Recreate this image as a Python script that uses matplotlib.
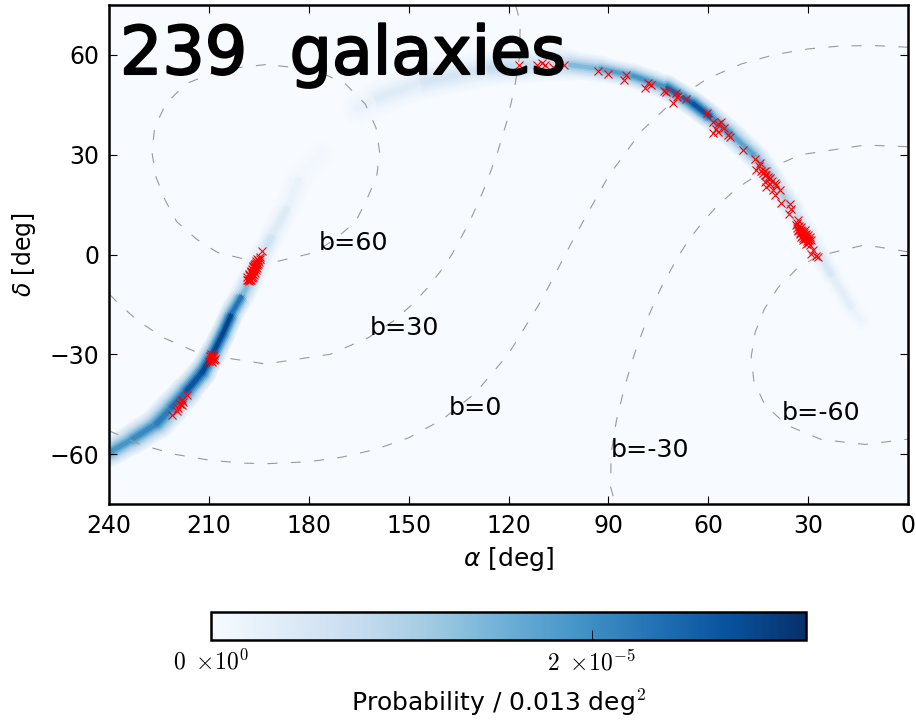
import numpy as np
import matplotlib
matplotlib.use('Agg')
import matplotlib.pyplot as plt
import matplotlib.patheffects as pe
from matplotlib.collections import LineCollection
from matplotlib.cm import ScalarMappable
from matplotlib.colors import Normalize

# probability band (two separate arcs)
SOUTH_RA = [239.7, 232.8, 225.6, 221.0, 216.6, 212.0, 208.8, 205.8, 203.0, 199.7, 196.7, 193.7, 190.7, 186.0, 182.6, 176.0]
SOUTH_DEC = [-59.4, -55.4, -50.8, -45.9, -40.9, -35.4, -29.8, -23.8, -17.4, -11.8, -5.8, 0.2, 6.3, 15.0, 23.7, 30.0]
SOUTH_WIDTH = [4.5, 4.5, 5.0, 5.0, 4.5, 4.2, 3.8, 3.8, 3.5, 3.8, 3.8, 3.8, 3.8, 4.0, 4.5, 5.0]
SOUTH_PROB = [1.8e-5, 2.0e-5, 2.1e-5, 2.3e-5, 2.5e-5, 2.9e-5, 2.8e-5, 2.9e-5, 2.9e-5, 1.7e-5, 1.1e-5, 0.7e-5, 0.5e-5, 0.3e-5, 0.15e-5, 0.06e-5]

NORTH_RA = [165.0, 159.5, 145.7, 125.6, 105.4, 101.5, 92.5, 82.6, 72.4, 64.5, 58.6, 52.6, 45.4, 40.5, 34.5, 28.5, 22.5, 16.5, 14.0]
NORTH_DEC = [44.0, 47.0, 52.0, 56.0, 57.3, 57.0, 55.8, 53.7, 50.2, 45.3, 40.8, 35.7, 29.1, 22.2, 13.2, 3.3, -6.9, -16.8, -19.8]
NORTH_WIDTH = [5.0, 5.0, 5.5, 5.5, 5.0, 4.5, 3.6, 3.6, 3.8, 3.8, 3.8, 3.8, 3.8, 3.8, 3.5, 3.2, 3.0, 3.0, 3.2]
NORTH_PROB = [0.15e-5, 0.3e-5, 0.45e-5, 0.6e-5, 0.9e-5, 1.2e-5, 1.6e-5, 1.9e-5, 1.9e-5, 3.1e-5, 2.3e-5, 1.7e-5, 1.7e-5, 1.2e-5, 0.9e-5, 0.6e-5, 0.4e-5, 0.25e-5, 0.12e-5]

# galaxies
GAL_RA = [194.0, 194.7, 195.5, 195.0, 196.2, 195.4, 196.0, 196.8, 195.7, 196.6, 197.4, 196.2, 197.0, 197.8, 196.7, 197.5,
          198.2, 197.2, 198.0, 195.8, 195.6, 196.5, 197.3, 196.5, 197.7, 198.5,
          195.2, 195.9, 196.3, 194.6, 195.3, 196.0, 196.7, 197.1, 196.4, 197.2, 197.9, 198.4, 196.9, 197.6,
          209.4, 208.6, 209.8, 208.8, 208.3, 209.5, 208.5, 210.0, 209.2, 209.1,
          216.7, 218.2, 218.7, 217.7, 219.2, 221.0, 218.0, 219.6,
          116.75, 111.55, 110.05, 109.05, 106.55, 103.35, 93.05, 90.25, 84.85, 85.25, 78.05, 77.05, 78.85,
          73.35, 72.55, 69.55, 69.25, 70.65, 66.55, 60.45, 58.55, 57.05, 56.05, 55.35, 57.55, 58.55, 57.05,
          54.05, 53.35, 49.65, 45.85, 44.55, 45.55, 44.05, 43.05, 42.05, 43.05, 41.55, 39.55, 42.55, 38.55,
          40.55, 40.05, 38.05, 35.55, 35.05, 35.75, 33.05, 33.55, 32.05, 33.05, 31.55, 32.55, 30.55, 31.05,
          29.55, 31.55, 30.05, 29.05, 30.55, 29.55, 28.55, 29.05, 27.55, 27.05, 32.05, 31.05, 30.05, 32.05,
          33.4, 32.8, 32.3, 31.8, 31.3, 30.8, 32.9, 32.4, 31.9, 31.4, 30.9, 30.4, 29.9, 30.2, 29.7, 33.2, 32.6, 32.0,
          31.2, 30.6, 43.6, 42.6, 41.9, 40.9, 39.9, 44.9, 42.9, 41.4]
GAL_DEC = [1.0, -0.8, -1.3, -2.3, -2.8, -3.3, -3.8, -3.8, -4.6, -4.8, -5.0, -5.6, -6.0, -6.3, -6.8, -7.3,
           -7.8, -7.8, -8.0, -2.5, -4.0, -4.0, -5.4, -6.2, -6.6, -7.6,
           -1.8, -1.9, -3.3, -1.4, -2.8, -3.0, -3.5, -4.4, -5.0, -5.2, -5.8, -6.8, -7.2, -7.6,
           -29.8, -30.2, -30.6, -30.8, -31.3, -31.4, -31.8, -32.0, -32.3, -31.0,
           -42.3, -43.8, -44.8, -44.3, -46.0, -48.3, -45.1, -46.9,
           56.96, 57.06, 57.56, 57.06, 56.26, 57.06, 55.16, 54.26, 54.06, 52.46, 51.46, 50.96, 49.96,
           49.26, 48.76, 48.46, 47.26, 45.66, 46.76, 42.46, 39.76, 39.26, 39.76, 38.06, 37.76, 36.46, 36.76,
           35.96, 35.26, 31.46, 28.76, 27.46, 25.26, 25.06, 23.76, 23.26, 21.76, 21.26, 20.76, 20.26, 19.26,
           19.26, 17.76, 15.46, 15.26, 13.76, 12.06, 10.46, 8.76, 8.26, 7.26, 6.76, 6.26, 6.26, 5.26,
           5.26, 4.46, 4.26, 4.26, 3.26, 2.76, 1.46, 0.26, -0.54, -0.74, 7.46, 7.46, 5.76, 5.26,
           9.4, 8.6, 7.9, 7.2, 6.5, 5.8, 7.0, 6.4, 5.6, 4.9, 4.6, 4.0, 3.6, 5.0, 4.4, 8.1, 7.4, 6.7,
           6.0, 5.2, 24.6, 24.0, 22.6, 22.0, 21.5, 26.5, 25.0, 23.0]

# galactic latitude curves
B60_RA = [192.9, 206.1, 217.0, 223.0, 226.3, 227.1, 225.9, 223.1, 219.7, 213.7, 207.3, 192.9,
          178.4, 172.1, 165.9, 162.7, 159.6, 158.7, 159.8, 163.0, 169.0, 178.4, 192.9]
B60_DEC = [57.1, 55.6, 51.3, 45.2, 38.1, 30.7, 23.3, 16.3, 9.9, 4.6, 0.55, -2.9,
           0.55, 4.6, 9.9, 16.3, 23.3, 30.7, 38.1, 45.2, 51.3, 55.6, 57.1]

B30_RA = [239.8, 236.9, 231.2, 223.7, 212.2, 192.9, 173.6, 162.1, 154.6, 148.9, 144.3, 140.4, 137.0, 131.6, 127.2, 123.5, 120.5, 118.2, 116.6, 116.5, 117.9]
B30_DEC = [-12.0, -15.0, -20.0, -25.0, -30.0, -32.9, -30.0, -25.0, -20.0, -15.0, -10.0, -5.0, 0.0, 10.0, 20.0, 30.0, 40.0, 50.0, 60.0, 70.0, 75.0]

B0_RA = [240, 230, 220, 210, 200, 192.9, 180, 170, 160, 150, 140, 130, 120, 110, 100, 90, 80, 70, 60, 50, 40, 30, 20, 10, 0]
B0_DEC = [-53.0, -57.3, -60.1, -61.8, -62.7, -62.9, -62.3, -60.9, -58.6, -55.1, -49.7, -41.7, -29.9, -13.6, 5.6,
          23.5, 37.2, 46.6, 53.0, 57.3, 60.1, 61.8, 62.7, 62.8, 62.3]

BM30_RA = [0.0, 12.9, 32.2, 43.7, 51.2, 56.9, 61.5, 65.4, 68.7, 74.2, 78.6, 82.2, 85.2, 87.6, 89.2, 89.3, 87.9]
BM30_DEC = [32.4, 32.9, 30.0, 25.0, 20.0, 15.0, 10.0, 5.0, 0.0, -10.0, -20.0, -30.0, -40.0, -50.0, -60.0, -70.0, -75.0]

BM60_RA = [0.0, 12.9, 27.4, 33.7, 39.0, 43.1, 45.9, 47.1, 46.3, 43.0, 36.4, 26.1, 12.9, 0.0]
BM60_DEC = [0.8, 2.9, -0.55, -4.6, -9.9, -16.3, -23.3, -30.7, -38.1, -45.2, -51.3, -55.6, -57.1, -55.5]

CURVES = [(B60_RA, B60_DEC), (B30_RA, B30_DEC), (B0_RA, B0_DEC), (BM30_RA, BM30_DEC), (BM60_RA, BM60_DEC)]

LABELS = ['b=60', 'b=30', 'b=0', 'b=-30', 'b=-60']
LABEL_RA = [176.9, 161.6, 138.0, 89.2, 38.0]
LABEL_DEC = [3.6, -22.2, -46.0, -58.9, -47.7]

VMAX = 3.125e-5
DEG_TO_PT = 2.4  # 3.33 px per degree at 100 dpi
CMAP = plt.get_cmap('Blues')

plt.rcParams['mathtext.default'] = 'it'

fig = plt.figure(figsize=(9.16, 7.24), dpi=100)
ax = fig.add_axes([109 / 916, 1 - 504 / 724, 799 / 916, 499 / 724])
ax.set_facecolor(CMAP(0.0))


def draw_band(ra, dec, width, prob):
    pts = np.column_stack([ra, dec])
    segs = np.stack([pts[:-1], pts[1:]], axis=1)
    w = (np.array(width[:-1]) + np.array(width[1:])) / 2
    p = (np.array(prob[:-1]) + np.array(prob[1:])) / 2
    # pale and wide first, dark and narrow on top
    for frac, weight in [(1.0, 0.1), (0.88, 0.18), (0.76, 0.28), (0.64, 0.4), (0.52, 0.54),
                         (0.4, 0.68), (0.28, 0.84), (0.16, 1.0)]:
        lc = LineCollection(segs, linewidths=w * frac * 2 * DEG_TO_PT,
                            colors=CMAP(p * weight / VMAX), capstyle='round', zorder=1)
        ax.add_collection(lc)


draw_band(NORTH_RA, NORTH_DEC, NORTH_WIDTH, NORTH_PROB)
draw_band(SOUTH_RA, SOUTH_DEC, SOUTH_WIDTH, SOUTH_PROB)

for cra, cdec in CURVES:
    ax.plot(cra, cdec, color='#999999', lw=0.8, dashes=(9, 12), zorder=2)

ax.plot(GAL_RA, GAL_DEC, 'x', color='red', ms=5.5, mew=0.8, zorder=3)

for name, lra, ldec in zip(LABELS, LABEL_RA, LABEL_DEC):
    ax.text(lra, ldec, name, fontsize=18.3, ha='left', va='center', zorder=4)

ax.text(120 / 916, 1 - 55 / 724, '239  galaxies', transform=fig.transFigure, fontsize=48, va='center', ha='left',
        color='black', zorder=5, path_effects=[pe.withStroke(linewidth=1.5, foreground='black')])

ax.set_xlim(240, 0)
ax.set_ylim(-75, 75)
ax.set_xticks(np.arange(0, 241, 30))
ax.set_yticks([-60, -30, 0, 30, 60])
ax.tick_params(direction='in', length=6, width=0.8, top=True, right=True, labelsize=17, pad=7)
for s in ax.spines.values():
    s.set_linewidth(1.8)
ax.set_xlabel(r'$\alpha$ [deg]', fontsize=18, labelpad=5)
ax.set_ylabel(r'$\delta$ [deg]', fontsize=17, labelpad=8)

cax = fig.add_axes([211 / 916, 1 - 640 / 724, 595 / 916, 28 / 724])
sm = ScalarMappable(norm=Normalize(0, VMAX), cmap=CMAP)
cbar = fig.colorbar(sm, cax=cax, orientation='horizontal', ticks=[0, 2e-5])
cbar.outline.set_linewidth(1.8)
cbar.ax.tick_params(direction='in', length=7, width=0.6, pad=7)
cbar.ax.set_xticklabels([r'$0\ \times\!10^{0}$', r'$2\ \times\!10^{-5}$'], fontsize=17, math_fontfamily='cm')
cbar.set_label(r'Probability / 0.013 deg$^{2}$', fontsize=18, math_fontfamily='cm', labelpad=9, x=(499 - 211) / 595)

fig.savefig('out.png', dpi=100)
